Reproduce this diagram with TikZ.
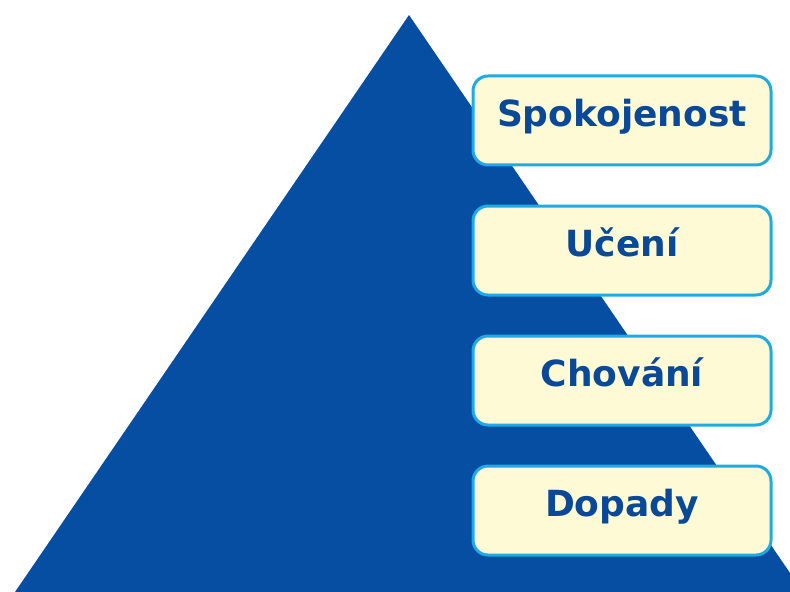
\documentclass[tikz,border=0pt]{standalone}
\usepackage{fontspec}
\setmainfont{DejaVu Sans}
\usepackage{tikz}
\usetikzlibrary{positioning}
\definecolor{pyr-blue}{RGB}{5,78,162}
\definecolor{box-fill}{RGB}{255,250,214}
\definecolor{box-line}{RGB}{30,170,228}
\definecolor{text-blue}{RGB}{10,72,152}

\begin{document}
\begin{tikzpicture}[
    x=1bp, y=-1bp,
    node distance=38bp,
    level/.style={rectangle, draw=box-line, fill=box-fill, line width=3bp, rounded corners=15bp,
        minimum width=298bp, minimum height=89bp, inner sep=0pt,
        text height=27bp, text depth=15bp, text=text-blue,
        font=\fontsize{36bp}{40bp}\selectfont\bfseries}
]
\useasboundingbox (0,0) rectangle (790,592);
\clip (0,0) rectangle (790,592);

% pyramid
\fill[pyr-blue] (409,15) -- (803,592) -- (15,592) -- cycle;

% levels
\node[level] (spokojenost) at (622,120.5) {Spokojenost};
\node[level, below=38bp of spokojenost] (uceni) {Učení};
\node[level, below=38bp of uceni] (chovani) {Chování};
\node[level, below=38bp of chovani] (dopady) {Dopady};

\end{tikzpicture}
\end{document}
